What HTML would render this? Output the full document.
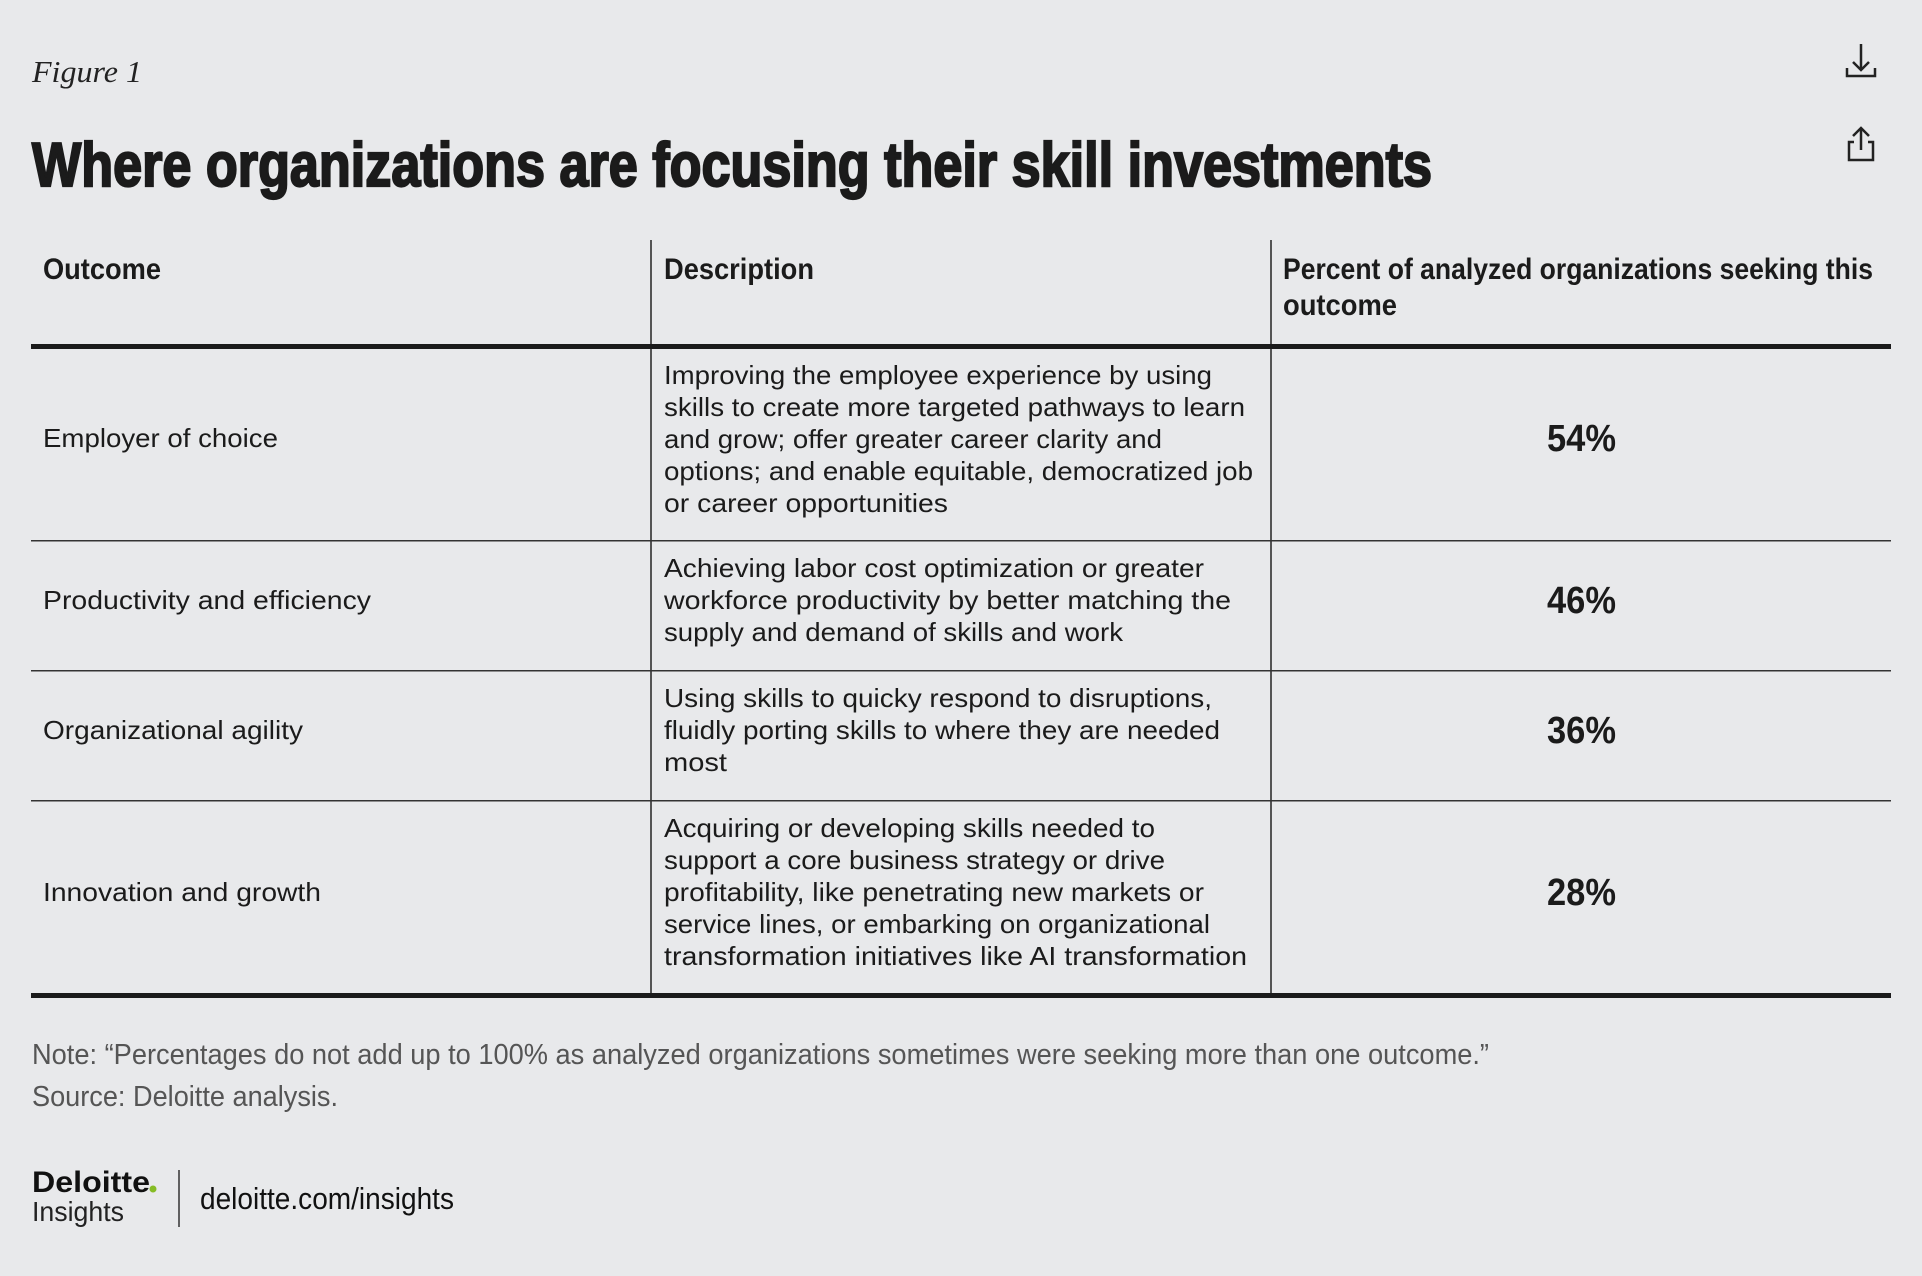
<!DOCTYPE html>
<html><head><meta charset="utf-8"><style>
html,body{margin:0;padding:0;background:#e8e9eb;}
svg{display:block}
.h{font-family:"Liberation Sans Narrow","Liberation Sans",sans-serif;font-weight:bold;fill:#1b1b1b}
.b{font-family:"Liberation Sans",sans-serif;fill:#1b1b1b;font-size:26px}
.p{font-family:"Liberation Sans",sans-serif;fill:#1b1b1b;font-size:38px;font-weight:bold}
</style></head><body>
<svg width="1922" height="1276" viewBox="0 0 1922 1276" xmlns="http://www.w3.org/2000/svg">
<rect width="1922" height="1276" fill="#e8e9eb"/>
<text x="32" y="82" font-family="Liberation Serif,serif" font-style="italic" font-size="31" fill="#222" textLength="110" lengthAdjust="spacingAndGlyphs">Figure 1</text>
<text class="h" x="32" y="186" font-size="62" stroke="#1b1b1b" stroke-width="2.2" textLength="1400" lengthAdjust="spacingAndGlyphs">Where organizations are focusing their skill investments</text>
<g stroke="#222" stroke-width="2.5" fill="none">
<line x1="1861" y1="44" x2="1861" y2="70"/><polyline points="1853,62 1861,70 1869,62"/><polyline points="1847,68 1847,76 1875,76 1875,68"/></g>
<g stroke="#222" stroke-width="2.5" fill="none">
<line x1="1861" y1="128" x2="1861" y2="150"/><polyline points="1853,136 1861,128 1869,136"/><polyline points="1854,142 1849,142 1849,160 1873,160 1873,142 1868,142"/></g>
<g>
<line x1="651" y1="240" x2="651" y2="995" stroke="#222" stroke-width="1.5"/>
<line x1="1271" y1="240" x2="1271" y2="995" stroke="#222" stroke-width="1.5"/>
<rect x="31" y="344" width="1860" height="5" fill="#1b1b1b"/>
<rect x="31" y="540" width="1860" height="1.5" fill="#333"/>
<rect x="31" y="670" width="1860" height="1.5" fill="#333"/>
<rect x="31" y="800" width="1860" height="1.5" fill="#333"/>
<rect x="31" y="993" width="1860" height="5" fill="#1b1b1b"/>
<text class="h" x="43" y="279" font-size="30" textLength="118" lengthAdjust="spacingAndGlyphs">Outcome</text>
<text class="h" x="664" y="279" font-size="30" textLength="150" lengthAdjust="spacingAndGlyphs">Description</text>
<text class="h" x="1283" y="279" font-size="30" textLength="590" lengthAdjust="spacingAndGlyphs">Percent of analyzed organizations seeking this</text>
<text class="h" x="1283" y="315" font-size="30" textLength="114" lengthAdjust="spacingAndGlyphs">outcome</text>

<text class="b" x="43" y="447" textLength="235" lengthAdjust="spacingAndGlyphs">Employer of choice</text>
<g class="b">
<text x="664" y="384" textLength="548" lengthAdjust="spacingAndGlyphs">Improving the employee experience by using</text>
<text x="664" y="416" textLength="581" lengthAdjust="spacingAndGlyphs">skills to create more targeted pathways to learn</text>
<text x="664" y="448" textLength="498" lengthAdjust="spacingAndGlyphs">and grow; offer greater career clarity and</text>
<text x="664" y="480" textLength="589" lengthAdjust="spacingAndGlyphs">options; and enable equitable, democratized job</text>
<text x="664" y="512" textLength="284" lengthAdjust="spacingAndGlyphs">or career opportunities</text></g>
<text class="p" x="1547" y="451" textLength="69" lengthAdjust="spacingAndGlyphs">54%</text>

<text class="b" x="43" y="609" textLength="328" lengthAdjust="spacingAndGlyphs">Productivity and efficiency</text>
<g class="b">
<text x="664" y="577" textLength="540" lengthAdjust="spacingAndGlyphs">Achieving labor cost optimization or greater</text>
<text x="664" y="609" textLength="567" lengthAdjust="spacingAndGlyphs">workforce productivity by better matching the</text>
<text x="664" y="641" textLength="459" lengthAdjust="spacingAndGlyphs">supply and demand of skills and work</text></g>
<text class="p" x="1547" y="613" textLength="69" lengthAdjust="spacingAndGlyphs">46%</text>

<text class="b" x="43" y="739" textLength="260" lengthAdjust="spacingAndGlyphs">Organizational agility</text>
<g class="b">
<text x="664" y="707" textLength="548" lengthAdjust="spacingAndGlyphs">Using skills to quicky respond to disruptions,</text>
<text x="664" y="739" textLength="556" lengthAdjust="spacingAndGlyphs">fluidly porting skills to where they are needed</text>
<text x="664" y="771" textLength="63" lengthAdjust="spacingAndGlyphs">most</text></g>
<text class="p" x="1547" y="743" textLength="69" lengthAdjust="spacingAndGlyphs">36%</text>

<text class="b" x="43" y="901" textLength="278" lengthAdjust="spacingAndGlyphs">Innovation and growth</text>
<g class="b">
<text x="664" y="837" textLength="491" lengthAdjust="spacingAndGlyphs">Acquiring or developing skills needed to</text>
<text x="664" y="869" textLength="501" lengthAdjust="spacingAndGlyphs">support a core business strategy or drive</text>
<text x="664" y="901" textLength="540" lengthAdjust="spacingAndGlyphs">profitability, like penetrating new markets or</text>
<text x="664" y="933" textLength="546" lengthAdjust="spacingAndGlyphs">service lines, or embarking on organizational</text>
<text x="664" y="965" textLength="583" lengthAdjust="spacingAndGlyphs">transformation initiatives like AI transformation</text></g>
<text class="p" x="1547" y="905" textLength="69" lengthAdjust="spacingAndGlyphs">28%</text>
</g>
<text x="32" y="1064" font-family="Liberation Sans Narrow,Liberation Sans,sans-serif" font-size="29" fill="#555" textLength="1457" lengthAdjust="spacingAndGlyphs">Note: “Percentages do not add up to 100% as analyzed organizations sometimes were seeking more than one outcome.”</text>
<text x="32" y="1106" font-family="Liberation Sans Narrow,Liberation Sans,sans-serif" font-size="29" fill="#555" textLength="306" lengthAdjust="spacingAndGlyphs">Source: Deloitte analysis.</text>
<g>
<text x="32" y="1192" font-family="Liberation Sans,sans-serif" font-weight="bold" font-size="30" fill="#111" textLength="118" lengthAdjust="spacingAndGlyphs">Deloitte</text>
<circle cx="153" cy="1189" r="3.5" fill="#86bc25"/>
<text x="32" y="1221" font-family="Liberation Sans,sans-serif" font-size="28" fill="#222" textLength="92" lengthAdjust="spacingAndGlyphs">Insights</text>
</g>
<line x1="179" y1="1170" x2="179" y2="1227" stroke="#333" stroke-width="1.5"/>
<text x="200" y="1209" font-family="Liberation Sans Narrow,Liberation Sans,sans-serif" font-size="31" fill="#111" textLength="254" lengthAdjust="spacingAndGlyphs">deloitte.com/insights</text>
</svg>
</body></html>
